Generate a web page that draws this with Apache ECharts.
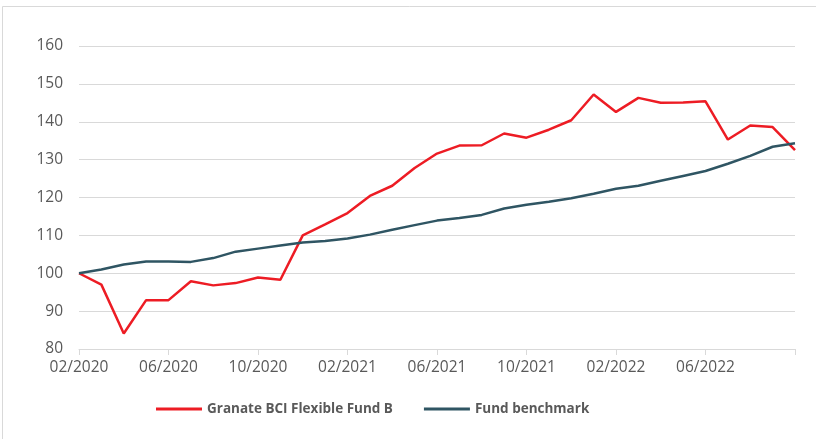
<!DOCTYPE html>
<html><head><meta charset="utf-8">
<script src="https://cdn.jsdelivr.net/npm/echarts@6/dist/echarts.min.js"></script>
<style>html,body{margin:0;padding:0;background:#fff}#c{width:816px;height:439px}</style>
</head><body><div id="c"></div>
<script>
const categories = ["02/2020","03/2020","04/2020","05/2020","06/2020","07/2020","08/2020","09/2020","10/2020","11/2020","12/2020",
"01/2021","02/2021","03/2021","04/2021","05/2021","06/2021","07/2021","08/2021","09/2021","10/2021","11/2021","12/2021",
"01/2022","02/2022","03/2022","04/2022","05/2022","06/2022","07/2022","08/2022","09/2022","10/2022"];
const fundName = "Granate BCI Flexible Fund B";
const benchName = "Fund benchmark";
const fund = [100,97.0,84.1,92.9,92.9,97.9,96.8,97.4,98.9,98.3,110.0,112.9,115.9,120.4,123.1,127.8,131.6,133.7,133.8,136.9,135.8,137.9,140.4,147.2,142.6,146.3,145.0,145.1,145.4,135.3,139.0,138.6,132.5];
const bench = [100,101.0,102.3,103.1,103.1,103.0,104.0,105.7,106.5,107.3,108.1,108.5,109.2,110.2,111.5,112.7,113.9,114.6,115.4,117.1,118.1,118.9,119.8,121.0,122.3,123.1,124.4,125.7,127.0,128.9,131.0,133.4,134.3];
const yTicks = {min:80, max:160, interval:10};

const chart = echarts.init(document.getElementById('c'), null, {renderer:'canvas'});
const font = "'Open Sans', 'Liberation Sans', sans-serif";
chart.setOption({
  animation:false,
  backgroundColor:'#fff',
  graphic:[{type:'rect', shape:{x:2.5,y:6.5,width:830,height:450}, style:{fill:'none', stroke:'#d9d9d9', lineWidth:1}, silent:true}],
  grid:{left:79, right:21, top:46, bottom:90, containLabel:false},
  legend:{
    bottom:18, left:151, itemGap:31, itemWidth:46, itemHeight:3,
    icon:'rect',
    textStyle:{color:'#595959', fontSize:13.5, fontWeight:'bold', fontFamily:font},
    data:[fundName, benchName]
  },
  xAxis:{
    type:'category', data:categories, boundaryGap:false,
    axisLine:{lineStyle:{color:'#d9d9d9', width:1}},
    axisTick:{show:true, interval:3, length:6, lineStyle:{color:'#d9d9d9'}},
    axisLabel:{interval:(i)=> i%4===0 && i!==categories.length-1, color:'#595959', fontSize:15.5, fontFamily:font, margin:11},
    splitLine:{show:false}
  },
  yAxis:{
    type:'value', min:yTicks.min, max:yTicks.max, interval:yTicks.interval,
    axisLine:{show:false}, axisTick:{show:false},
    axisLabel:{color:'#595959', fontSize:15.5, fontFamily:font, margin:16},
    splitLine:{lineStyle:{color:'#d9d9d9', width:1}}
  },
  series:[
    {name:fundName, type:'line', data:fund, showSymbol:false, symbol:'none', lineStyle:{color:'#ED1C24', width:2.5}, itemStyle:{color:'#ED1C24'}},
    {name:benchName, type:'line', data:bench, showSymbol:false, symbol:'none', lineStyle:{color:'#2F5563', width:2.5}, itemStyle:{color:'#2F5563'}}
  ]
});
</script></body></html>
